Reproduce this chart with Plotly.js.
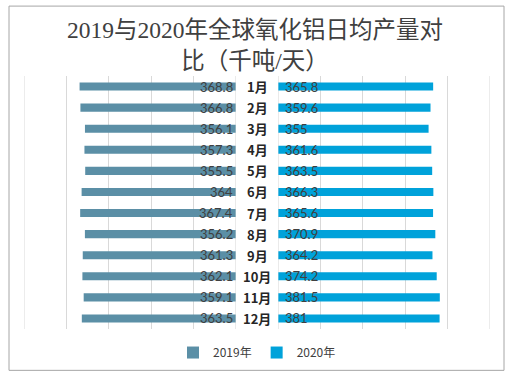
<!DOCTYPE html>
<html>
<head>
<meta charset="utf-8">
<script src="https://cdn.plot.ly/plotly-3.0.1.min.js"></script>
<style>
html,body{margin:0;padding:0;background:#fff;}
#chart{width:510px;height:379px;}
</style>
</head>
<body>
<div id="chart"></div>
<script>
const months = ['1月','2月','3月','4月','5月','6月','7月','8月','9月','10月','11月','12月'];
const v2019 = [368.8,366.8,356.1,357.3,355.5,364,367.4,356.2,361.3,362.1,359.1,363.5];
const v2020 = [365.8,359.6,355,361.6,363.5,366.3,365.6,370.9,364.2,374.2,381.5,381];
const seriesNames = ['2019年','2020年'];
const titleText = '2019与2020年全球氧化铝日均产量对<br>比（千吨/天）';
const axisMax = 500;

const c2019 = '#5B8FA6';
const c2020 = '#00A2DA';
const labelFont = {family:'Lato, "Noto Sans CJK SC", sans-serif', size:13, color:'#404040'};
const monthFont = {family:'"Noto Sans CJK SC", sans-serif', size:13, color:'#262626', weight:700};

const traces = [
  {type:'bar', orientation:'h', y:months, x:v2019, xaxis:'x', yaxis:'y',
   name:seriesNames[0], marker:{color:c2019}, width:0.38, hoverinfo:'none'},
  {type:'bar', orientation:'h', y:months, x:v2020, xaxis:'x2', yaxis:'y',
   name:seriesNames[1], marker:{color:c2020}, width:0.38, hoverinfo:'none'}
];

const annotations = [];
months.forEach((m,i)=>{
  annotations.push({x:0, xref:'x', y:m, yref:'y', text:String(v2019[i]), xanchor:'right', xshift:-1,
    showarrow:false, font:labelFont});
  annotations.push({x:0, xref:'x2', y:m, yref:'y', text:String(v2020[i]), xanchor:'left', xshift:5,
    showarrow:false, font:labelFont});
  annotations.push({x:0.5, xref:'paper', y:m, yref:'y', text:m, xanchor:'center',
    showarrow:false, font:monthFont});
});

const shapes = [{type:'rect', xref:'paper', yref:'paper', x0:(9-24)/466, x1:(504-24)/466, y0:(333-375)/257, y1:(333-5)/257,
    line:{color:'#a6a6a6', width:1}, fillcolor:'rgba(0,0,0,0)', layer:'below'}];
// edge gridlines (Plotly omits grid lines at range ends)
['x','x2'].forEach(ax=>{
  [0, axisMax].forEach(v=>{
    shapes.push({type:'line', xref:ax, yref:'paper', x0:v, x1:v, y0:0, y1:1,
      line:{color:'#d9d9d9', width:1}, layer:'below'});
  });
});

const layout = {
  width:510, height:379,
  margin:{l:24, r:20, t:76, b:46},
  paper_bgcolor:'#fff', plot_bgcolor:'#fff',
  title:{text:titleText, x:0.5, xanchor:'center', xref:'container', y:0.899, yref:'container', yanchor:'top',
    font:{family:'"Liberation Serif", "Noto Sans CJK SC", serif', size:23.5, color:'#404040'}},
  showlegend:true,
  legend:{orientation:'h', x:0.5, xanchor:'center', y:-0.093, yanchor:'middle',
    font:{family:'"Noto Sans CJK SC", sans-serif', size:12, color:'#404040'}},
  xaxis:{domain:[0,0.4545], range:[axisMax,0], dtick:100, tick0:0, showgrid:true, gridcolor:'#d9d9d9', gridwidth:1,
    showticklabels:false, zeroline:false, showline:false, ticks:'', fixedrange:true},
  xaxis2:{domain:[0.5455,1], range:[0,axisMax], dtick:100, tick0:0, anchor:'y', showgrid:true, gridcolor:'#d9d9d9', gridwidth:1,
    showticklabels:false, zeroline:false, showline:false, ticks:'', fixedrange:true},
  yaxis:{type:'category', categoryorder:'array', categoryarray:months, range:[11.5,-0.5],
    showticklabels:false, showgrid:false, zeroline:false, showline:false, ticks:'', fixedrange:true},
  annotations:annotations,
  shapes:shapes
};

Plotly.newPlot('chart', traces, layout, {displayModeBar:false, staticPlot:true});
</script>
</body>
</html>
